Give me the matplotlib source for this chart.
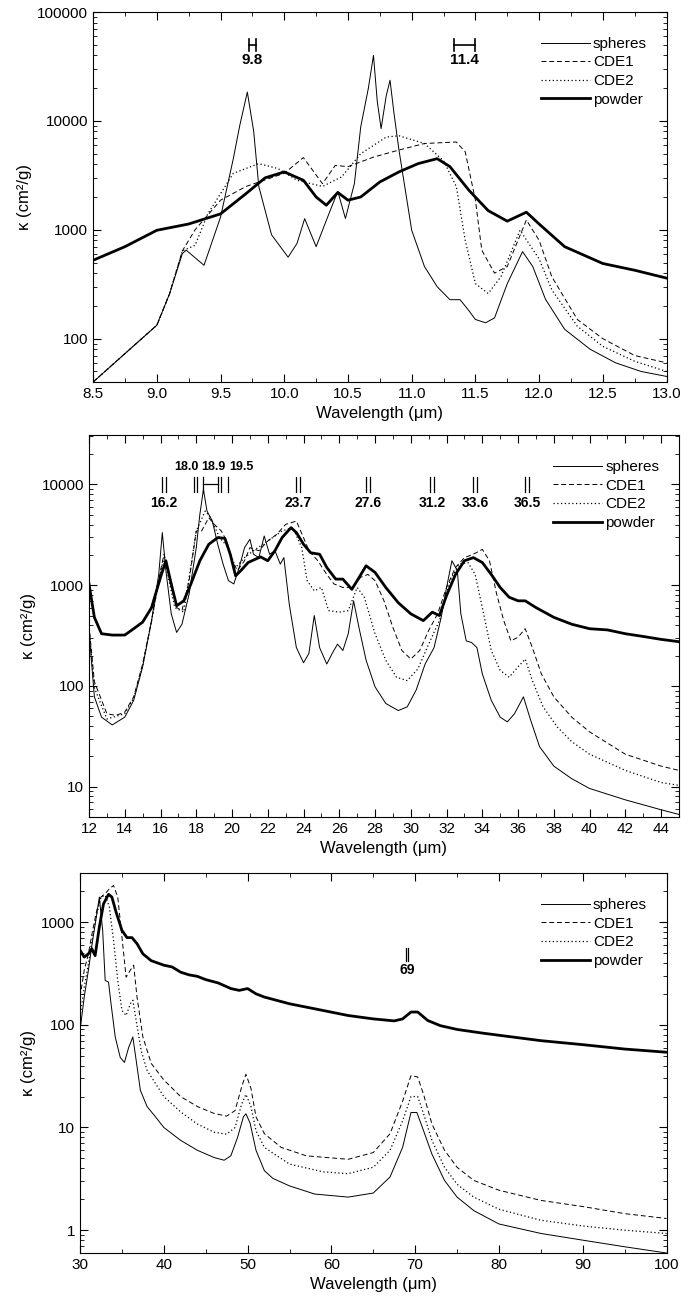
import numpy as np
import matplotlib
matplotlib.use("Agg")
import matplotlib.pyplot as plt
from matplotlib.ticker import FuncFormatter, AutoMinorLocator, NullFormatter

plt.rcParams['font.family'] = ['Liberation Sans', 'DejaVu Sans']

# ---------- Panel 1 data ----------
p1_sph_x = [8.5,8.75,9.0,9.1,9.2,9.23,9.37,9.5,9.6,9.65,9.71,9.76,9.8,9.9,10.03,10.1,10.16,10.25,10.35,10.42,10.48,10.55,10.6,10.66,10.7,10.73,10.76,10.8,10.83,10.86,10.9,11.0,11.1,11.2,11.3,11.38,11.45,11.5,11.58,11.65,11.75,11.87,11.95,12.05,12.2,12.4,12.6,12.8,13.0]
p1_sph_y = [40,73,133,259,604,650,472,1310,4500,9000,18400,8000,2500,900,560,750,1265,700,1400,2250,1270,2650,8800,20000,40000,15000,8500,17000,23600,12000,5400,990,460,300,228,228,180,150,140,155,320,630,460,230,122,80,60,50,45]
p1_cde1_x = [8.5,8.75,9.0,9.1,9.2,9.3,9.5,9.7,10.0,10.15,10.3,10.4,10.5,10.7,10.9,11.1,11.35,11.42,11.5,11.55,11.65,11.75,11.9,12.0,12.1,12.3,12.5,12.75,13.0]
p1_cde1_y = [40,73,133,259,640,1000,1870,2500,3300,4600,2650,3900,3800,4650,5400,6200,6400,5200,1870,650,400,460,1230,800,370,150,100,70,60]
p1_cde2_x = [8.5,8.75,9.0,9.1,9.2,9.3,9.4,9.6,9.8,9.95,10.1,10.3,10.45,10.6,10.8,10.9,11.1,11.25,11.35,11.42,11.5,11.6,11.7,11.85,12.0,12.1,12.3,12.5,12.75,13.0]
p1_cde2_y = [40,73,133,259,640,720,1400,3300,4050,3650,2850,2500,3060,5000,7100,7300,6200,4300,2500,800,320,260,370,990,540,280,130,85,62,50]
p1_pow_x = [8.5,8.75,9.0,9.25,9.5,9.7,9.85,10.0,10.15,10.25,10.33,10.42,10.5,10.6,10.75,10.9,11.05,11.2,11.3,11.45,11.6,11.75,11.9,12.0,12.2,12.5,12.75,13.0]
p1_pow_y = [525,700,990,1130,1400,2150,3000,3400,2850,2000,1680,2200,1870,2000,2750,3400,4050,4500,3800,2300,1500,1200,1450,1130,700,490,425,360]

# ---------- Panel 2 data ----------
p2_sph_x = [12.0,12.3,12.7,13.3,14.0,14.5,15.0,15.5,15.9,16.1,16.3,16.6,16.9,17.2,17.6,18.0,18.2,18.4,18.6,18.9,19.2,19.5,19.8,20.1,20.4,20.7,21.0,21.2,21.5,21.8,22.1,22.4,22.7,22.9,23.2,23.6,24.0,24.3,24.6,24.9,25.3,25.6,25.9,26.2,26.5,26.8,27.1,27.5,28.0,28.6,29.3,29.8,30.3,30.8,31.3,31.7,32.0,32.3,32.6,32.8,33.1,33.4,33.7,34.0,34.5,35.0,35.4,35.8,36.3,36.7,37.2,38.0,39.0,40.0,42.0,44.0,45.0]
p2_sph_y = [350,78,49,41,49,72,155,445,1280,3330,1400,520,340,410,820,2360,5050,8900,5450,4330,2550,1620,1110,1030,1500,2360,2860,2030,1880,3080,2030,2200,1620,1880,650,240,170,210,500,240,165,210,260,225,330,700,380,180,98,67,57,62,91,165,240,480,950,1750,1400,520,280,270,240,132,72,49,44,53,78,46,25,16,12,9.6,7.4,5.9,5.3]
p2_cde1_x = [12.0,12.3,13.0,13.5,14.0,14.5,15.0,15.5,16.0,16.2,16.5,16.9,17.2,17.6,18.0,18.3,18.7,19.0,19.4,19.7,20.0,20.3,20.7,21.0,21.5,22.0,22.5,23.0,23.6,24.0,24.3,24.8,25.3,25.7,26.2,26.7,27.2,27.6,28.0,28.5,29.0,29.5,30.0,30.5,31.0,31.5,32.0,32.5,33.0,33.5,34.0,34.4,34.8,35.2,35.6,36.0,36.4,36.8,37.3,38.0,39.0,40.0,42.0,44.0,45.0]
p2_cde1_y = [400,110,53,51,55,78,165,445,1400,2030,1200,600,560,1110,3460,3460,4680,4020,3460,2750,1750,1400,1750,2360,2200,2750,3200,4020,4330,2970,2200,1750,1280,1030,950,950,1200,1280,1110,700,380,225,185,225,355,520,950,1500,1880,2030,2270,1750,820,445,280,305,370,240,132,78,49,35,21,16,14.5]
p2_cde2_x = [12.0,12.3,13.0,14.0,14.5,15.0,15.5,16.0,16.2,16.8,17.3,18.0,18.5,18.8,19.3,19.8,20.2,20.7,21.2,22.0,22.8,23.4,23.9,24.2,24.6,25.0,25.4,26.0,26.5,27.0,27.4,28.0,28.6,29.2,29.8,30.4,31.0,31.6,32.2,32.7,33.2,33.6,34.0,34.5,35.0,35.5,36.0,36.4,36.8,37.4,38.2,39.0,40.0,42.0,44.0,45.0]
p2_cde2_y = [380,96,47,53,76,160,445,1350,1880,600,540,3460,5450,4680,2970,2360,1500,1880,2200,2750,3460,3730,2360,1110,880,950,560,540,560,950,760,330,180,122,113,148,260,445,1110,1620,1680,1280,600,225,143,122,155,185,113,62,39,28,21,14.5,11,10.3]
p2_pow_x = [12.0,12.3,12.7,13.3,14.0,14.5,15.0,15.5,16.0,16.3,16.6,16.9,17.3,17.7,18.2,18.7,19.2,19.6,19.9,20.2,20.5,20.9,21.3,21.6,22.0,22.4,22.8,23.3,23.6,24.0,24.4,24.9,25.3,25.8,26.2,26.7,27.0,27.5,28.0,28.6,29.3,30.0,30.7,31.2,31.6,32.0,32.5,33.0,33.5,34.0,34.5,35.0,35.5,36.0,36.4,37.0,38.0,39.0,40.0,41.0,42.0,43.0,44.0,45.0]
p2_pow_y = [1030,480,330,320,320,370,430,600,1200,1750,1030,625,700,1030,1750,2550,2970,2920,2030,1240,1400,1680,1810,1910,1750,2200,2970,3730,3330,2550,2100,2030,1500,1150,1150,910,1110,1560,1340,950,670,520,445,540,500,790,1280,1750,1880,1680,1280,950,760,700,700,600,480,410,370,360,330,310,290,275]

# ---------- Panel 3 data ----------
p3_sph_x = [30.0,30.5,31.0,31.5,32.0,32.3,32.7,33.0,33.4,33.7,34.2,34.8,35.3,35.8,36.3,36.7,37.2,38.0,39.0,40.0,42.0,44.0,46.0,47.2,48.0,48.8,49.5,49.8,50.3,51.0,52.0,53.0,55.0,58.0,62.0,65.0,67.0,68.5,69.5,70.2,71.0,72.0,73.5,75.0,77.0,80.0,85.0,90.0,95.0,100.0]
p3_sph_y = [88,186,340,660,1200,1750,830,270,260,160,76,48,43,60,76,45,23,16,12.7,10,7.5,6,5.1,4.8,5.3,8,12.7,13.6,11,6,3.8,3.2,2.7,2.25,2.1,2.3,3.3,6.4,14,14,9.3,5.5,3.05,2.1,1.55,1.15,0.93,0.8,0.69,0.6]
p3_cde1_x = [30.0,30.5,31.0,31.5,32.0,32.5,33.0,33.5,34.0,34.5,35.0,35.5,36.0,36.4,36.8,37.5,38.5,40.0,42.0,44.0,46.0,47.5,48.5,49.3,49.8,50.4,51.0,52.0,54.0,57.0,62.0,65.0,67.0,68.5,69.5,70.3,71.0,72.0,73.5,75.0,77.0,80.0,85.0,90.0,95.0,100.0]
p3_cde1_y = [186,340,490,830,1300,1750,1890,2100,2270,1750,715,290,340,380,186,76,42,29,20,16,13.7,12.9,14.6,25,33,24,12.7,8.7,6.4,5.3,4.9,5.7,8.7,18,32,31,21,10.8,6,4.1,3.05,2.45,1.95,1.7,1.45,1.3]
p3_cde2_x = [30.0,30.5,31.0,31.5,32.0,32.5,33.0,33.5,34.0,34.5,35.0,35.5,36.0,36.3,36.7,37.3,38.0,40.0,42.0,44.0,46.0,47.5,48.5,49.3,49.8,50.4,51.0,52.0,55.0,59.0,62.0,65.0,67.0,68.5,69.5,70.3,71.0,72.0,73.5,75.0,77.0,80.0,85.0,90.0,95.0,100.0]
p3_cde2_y = [118,232,390,715,1200,1750,1820,1400,660,270,138,123,160,173,110,56,36,20,14.2,10.8,9,8.6,10,17,21,16,9.3,6.4,4.4,3.7,3.55,4.1,6,11.6,20,20,13.6,7.5,4.1,2.8,2.1,1.6,1.25,1.1,1.0,0.93]
p3_pow_x = [30.0,30.5,31.0,31.4,31.8,32.3,32.8,33.4,33.8,34.3,35.0,35.6,36.2,36.8,37.5,38.5,40.0,41.0,42.0,43.0,44.0,45.0,46.5,48.0,49.0,50.0,51.0,52.0,55.0,58.0,62.0,65.0,67.5,68.5,69.5,70.3,71.5,73.0,75.0,78.0,80.0,85.0,90.0,95.0,100.0]
p3_pow_y = [530,456,490,550,470,890,1500,1860,1750,1250,830,705,705,615,490,420,380,365,325,306,296,275,255,225,216,225,200,186,160,143,123,114,109,114,133,133,110,98,90,83,79,70,64,58,54]

# ---------- annotations ----------
p1_brackets = [(9.72, 9.78, "9.8"), (11.33, 11.5, "11.4")]
p2_pairs_below = [(16.2, "16.2"), (23.7, "23.7"), (27.6, "27.6"), (31.2, "31.2"), (33.6, "33.6"), (36.5, "36.5")]
p3_pairs_below = [(69.0, "69")]

styles = [("spheres", dict(color='black', lw=0.7, ls='-')),
          ("CDE1", dict(color='black', lw=0.7, ls=(0, (5, 3)))),
          ("CDE2", dict(color='black', lw=0.9, ls=(0, (1, 2)))),
          ("powder", dict(color='black', lw=2.0, ls='-'))]

fig = plt.figure(figsize=(6.9, 13.04), dpi=100)
H = 1304.0
def mkax(l, r, top, bot):
    return fig.add_axes([l, 1 - bot / H, r - l, (bot - top) / H])

ax1 = mkax(0.135, 0.966, 12, 382)
ax2 = mkax(0.129, 0.984, 435, 817)
ax3 = mkax(0.116, 0.966, 873, 1253)

def draw(ax, data):
    for (lab, st), (x, y) in zip(styles, data):
        ax.plot(x, y, label=lab, **st)
    ax.set_yscale('log')
    ax.yaxis.set_major_formatter(FuncFormatter(lambda v, p: f"{v:g}"))
    ax.yaxis.set_minor_formatter(NullFormatter())
    ax.tick_params(which='both', direction='in', top=True, right=True, labelsize=11)
    ax.tick_params(which='major', length=6)
    ax.tick_params(which='minor', length=3)
    ax.set_xlabel("Wavelength (μm)", fontsize=12)
    ax.set_ylabel("κ (cm²/g)", fontsize=12)
    ax.legend(loc='upper right', frameon=False, fontsize=11, handlelength=3.2,
              handletextpad=0.2, labelspacing=0.3, bbox_to_anchor=(0.99, 0.97))

draw(ax1, [(p1_sph_x, p1_sph_y), (p1_cde1_x, p1_cde1_y), (p1_cde2_x, p1_cde2_y), (p1_pow_x, p1_pow_y)])
ax1.set_xlim(8.5, 13.0); ax1.set_ylim(40, 100000)
ax1.set_xticks(np.arange(8.5, 13.01, 0.5))
ax1.xaxis.set_major_formatter(FuncFormatter(lambda v, p: f"{v:.1f}"))
ax1.xaxis.set_minor_locator(AutoMinorLocator(2))
for a, b, t in p1_brackets:
    ax1.plot([a, b], [50000, 50000], color='black', lw=1.2)
    ax1.plot([a, a], [44000, 57000], color='black', lw=1.2)
    ax1.plot([b, b], [44000, 57000], color='black', lw=1.2)
    ax1.text((a + b) / 2, 36000, t, ha='center', va='center', fontsize=11, fontweight='bold')

draw(ax2, [(p2_sph_x, p2_sph_y), (p2_cde1_x, p2_cde1_y), (p2_cde2_x, p2_cde2_y), (p2_pow_x, p2_pow_y)])
ax2.set_xlim(12, 45); ax2.set_ylim(5, 31000)
ax2.set_xticks(np.arange(12, 45, 2))
ax2.xaxis.set_minor_locator(AutoMinorLocator(2))

def pair(ax, x, y0, y1, dx):
    for xx in (x - dx, x + dx):
        ax.plot([xx, xx], [y0, y1], color='black', lw=0.9)

for x, t in p2_pairs_below:
    pair(ax2, x, 8500, 11800, 0.1)
    ax2.text(x, 6500, t, ha='center', va='center', fontsize=10, fontweight='bold')
pair(ax2, 17.95, 8500, 11800, 0.1)
ax2.plot([18.4, 19.2], [10000, 10000], color='black', lw=0.9)
for xx in (18.4, 19.2, 19.4, 19.75):
    ax2.plot([xx, xx], [8500, 11800], color='black', lw=0.9)
ax2.text(17.45, 14800, "18.0", ha='center', va='center', fontsize=9, fontweight='bold')
ax2.text(18.95, 14800, "18.9", ha='center', va='center', fontsize=9, fontweight='bold')
ax2.text(20.55, 14800, "19.5", ha='center', va='center', fontsize=9, fontweight='bold')

draw(ax3, [(p3_sph_x, p3_sph_y), (p3_cde1_x, p3_cde1_y), (p3_cde2_x, p3_cde2_y), (p3_pow_x, p3_pow_y)])
ax3.set_xlim(30, 100); ax3.set_ylim(0.6, 3000)
ax3.set_xticks(np.arange(30, 101, 10))
ax3.xaxis.set_minor_locator(AutoMinorLocator(2))
for x, t in p3_pairs_below:
    ax3.plot([x - 0.15, x - 0.15], [420, 560], color='black', lw=0.9)
    ax3.plot([x + 0.15, x + 0.15], [420, 560], color='black', lw=0.9)
    ax3.text(x, 340, t, ha='center', va='center', fontsize=10, fontweight='bold')

fig.savefig("out.png", dpi=100)
